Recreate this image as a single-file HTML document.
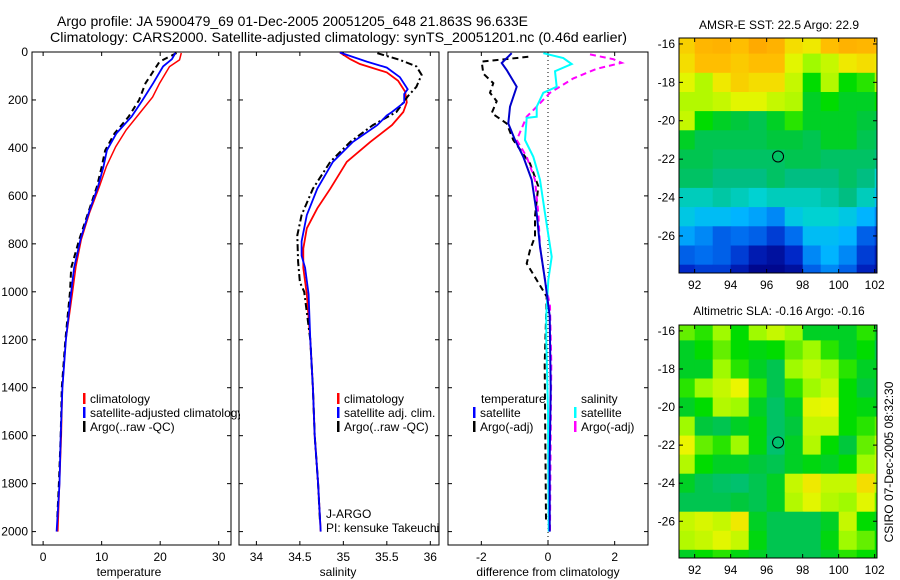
<!DOCTYPE html>
<html><head><meta charset="utf-8"><style>
html,body{margin:0;padding:0;background:#fff;}
svg{display:block;font-family:"Liberation Sans",sans-serif;}
text{font-size:12px;fill:#000;}
</style></head><body>
<svg id="chart" width="900" height="580" xmlns="http://www.w3.org/2000/svg">
<text x="57" y="26" textLength="471" lengthAdjust="spacingAndGlyphs" style="font-size:14px">Argo profile: JA 5900479_69 01-Dec-2005 20051205_648 21.863S 96.633E</text>
<text x="50" y="42" textLength="577" lengthAdjust="spacingAndGlyphs" style="font-size:14px">Climatology: CARS2000. Satellite-adjusted climatology: synTS_20051201.nc (0.46d earlier)</text>
<text x="129" y="576" text-anchor="middle">temperature</text>
<text x="338" y="576" text-anchor="middle">salinity</text>
<text x="548" y="576" text-anchor="middle">difference from climatology</text>
<text x="779" y="29" text-anchor="middle">AMSR-E SST: 22.5 Argo: 22.9</text>
<text x="779" y="315" text-anchor="middle">Altimetric SLA: -0.16 Argo: -0.16</text>
<text transform="translate(893,462) rotate(-90)" text-anchor="middle">CSIRO 07-Dec-2005 08:32:30</text>
<g id="layer"></g>
</svg>
<script>
// ---- data ----
const depthTicks=[0,200,400,600,800,1000,1200,1400,1600,1800,2000];
const tempTicks=[0,10,20,30];
const salTicks=[34,34.5,35,35.5,36];
const diffTicks=[-2,0,2];
const tClimD=[4,33,61,130,188,255,325,395,478,562,672,783,895,1005,1200,1400,1600,1800,2000];
const tClimV=[23.6,23.3,21.6,19.9,18.7,16.5,14.2,12.4,10.8,9.6,7.9,6.5,5.6,5.0,3.9,3.3,3.1,2.8,2.5];
const tSatD=[4,30,60,130,200,270,340,410,480,560,670,780,900,1000,1200,1400,1600,1800,2000];
const tSatV=[22.6,22.0,20.5,18.8,17.0,15.1,12.5,10.9,10.3,9.4,7.8,6.4,5.3,4.8,3.9,3.3,3.0,2.8,2.3];
const tArgD=[4,40,130,200,270,340,410,480,560,670,780,900,1000,1200,1400,1600,1800,1950];
const tArgV=[22.8,19.9,17.5,16.4,14.6,12.2,10.6,10.0,9.2,7.7,6.2,4.8,4.6,3.8,3.2,3.0,2.7,2.4];
const sClimD=[2,30,50,85,120,165,210,250,305,375,458,570,652,735,820,900,1010,1200,1400,1600,1800,2000];
const sClimV=[34.96,35.08,35.19,35.5,35.63,35.71,35.73,35.69,35.56,35.31,35.04,34.85,34.70,34.58,34.54,34.54,34.58,34.62,34.65,34.67,34.71,34.74];
const sSatD=[2,40,65,105,155,175,210,250,265,305,375,458,570,680,790,850,900,1010,1200,1400,1600,1800,2000];
const sSatV=[34.96,35.27,35.5,35.65,35.74,35.70,35.70,35.56,35.5,35.39,35.11,34.88,34.70,34.58,34.52,34.52,34.56,34.60,34.62,34.65,34.67,34.71,34.74];
const sArgD=[5,33,60,95,145,185,250,305,375,458,570,680,765,875,960,1000,1200,1400,1600,1800,1950];
const sArgV=[35.39,35.65,35.84,35.9,35.84,35.74,35.61,35.34,35.08,34.85,34.65,34.52,34.47,34.48,34.50,34.55,34.62,34.65,34.67,34.71,34.73];
const dTSatD=[5,46,75,145,228,298,367,437,533,673,812,951,1100,1400,1700,2000];
const dTSatV=[-1.09,-1.39,-1.24,-0.94,-1.14,-1.19,-0.99,-0.74,-0.49,-0.34,-0.24,-0.09,0.05,0.08,0.05,0.05];
const dSSatD=[5,25,50,80,145,170,228,270,275,367,437,533,673,854,951,1100,1200,1500,2000];
const dSSatV=[-0.14,0.46,0.71,0.21,0.26,-0.14,-0.34,-0.34,-0.64,-0.69,-0.44,-0.24,-0.09,0.11,0.01,-0.05,-0.05,0.0,0.02];
const dSArgD=[10,30,45,70,110,170,228,270,367,437,533,673,812,951,1060,1300,1600,2000];
const dSArgV=[1.26,1.96,2.21,1.46,0.76,0.06,-0.34,-0.64,-0.94,-0.64,-0.39,-0.29,-0.24,-0.09,0.06,0.1,0.08,0.06];
const dTArgD=[20,40,90,130,170,205,255,298,367,465,560,686,770,826,882,951,1020,1300,1600,1950];
const dTArgV=[-0.59,-1.99,-1.94,-1.64,-1.74,-1.54,-1.69,-1.24,-1.04,-0.54,-0.29,-0.39,-0.39,-0.54,-0.64,-0.34,-0.04,-0.1,-0.08,-0.06];
const mapLonTicks=[92,94,96,98,100,102];
const mapLatTicks=[-16,-18,-20,-22,-24,-26];
const argoLon=96.633, argoLat=-21.863;
const sstGrid=[
[.82,.87,.88,.85,.9,.88,.8,.78,.85,.88,.87,.85],
[.8,.85,.85,.83,.85,.85,.75,.68,.72,.78,.8,.78],
[.75,.7,.78,.82,.8,.8,.72,.6,.7,.6,.62,.7],
[.7,.7,.72,.75,.75,.72,.7,.55,.6,.55,.55,.6],
[.72,.6,.55,.52,.5,.55,.62,.55,.55,.55,.52,.5],
[.55,.5,.5,.5,.5,.52,.52,.5,.55,.55,.5,.48],
[.5,.5,.48,.48,.48,.48,.5,.5,.48,.48,.48,.45],
[.48,.48,.45,.45,.45,.48,.45,.45,.45,.48,.45,.38],
[.4,.4,.42,.4,.38,.4,.4,.4,.42,.45,.4,.32],
[.35,.32,.32,.3,.28,.25,.35,.38,.38,.35,.3,.25],
[.28,.25,.2,.22,.2,.15,.22,.32,.32,.3,.2,.15],
[.2,.22,.2,.15,.08,.05,.12,.25,.3,.25,.15,.08],
[.12,.15,.15,.08,.02,.02,.05,.2,.25,.2,.1,.05]];
const slaGrid=[
[.65,.62,.68,.6,.68,.72,.68,.55,.55,.55,.62,.55],
[.55,.6,.65,.6,.58,.6,.65,.68,.62,.55,.6,.5],
[.55,.55,.68,.62,.55,.5,.68,.72,.68,.62,.55,.55],
[.62,.68,.72,.76,.62,.5,.62,.68,.72,.6,.52,.55],
[.55,.6,.7,.68,.55,.48,.55,.75,.76,.6,.58,.55],
[.68,.52,.5,.55,.58,.48,.52,.72,.72,.6,.62,.65],
[.76,.65,.62,.68,.58,.47,.55,.7,.6,.52,.65,.7],
[.7,.6,.55,.55,.52,.5,.55,.58,.55,.6,.68,.72],
[.55,.5,.48,.47,.5,.55,.72,.78,.72,.72,.8,.7],
[.5,.5,.5,.52,.5,.55,.7,.75,.7,.68,.75,.65],
[.72,.74,.72,.78,.55,.5,.5,.5,.55,.72,.6,.55],
[.7,.72,.75,.72,.58,.5,.5,.5,.58,.68,.65,.6],
[.55,.6,.62,.58,.55,.5,.5,.5,.55,.62,.6,.58]];

// ---- helpers ----
const NS='http://www.w3.org/2000/svg';
const layer=document.getElementById('layer');
function mk(tag,attrs,parent){const e=document.createElementNS(NS,tag);for(const k in attrs)e.setAttribute(k,attrs[k]);(parent||layer).appendChild(e);return e;}
const Y0=52, Y1=545, DMAX=(Y1-Y0)/0.2398;
function yD(d){return Y0+d*(Y1-Y0)/DMAX;}
function lin(d0,d1,r0,r1){return v=>r0+(v-d0)*(r1-r0)/(d1-d0);}
const panels=[
 {name:'temperature-panel',x0:32,x1:231,sx:lin(-1.9,32.1,32,231),ticks:tempTicks},
 {name:'salinity-panel',x0:239,x1:439,sx:lin(33.8,36.1,239,439),ticks:salTicks},
 {name:'difference-panel',x0:448,x1:648,sx:lin(-3,3,448,648),ticks:diffTicks}];
panels.forEach((p,i)=>{
 const g=mk('g',{});
 
 
 const cp=mk('clipPath',{id:'clip'+i},g);
 mk('rect',{x:p.x0,y:Y0,width:p.x1-p.x0,height:Y1-Y0},cp);
 p.g=g;
 const frame=mk('rect',{x:p.x0,y:Y0,width:p.x1-p.x0,height:Y1-Y0,fill:'none',stroke:'#000','stroke-width':1},g);
 
 
 depthTicks.forEach(d=>{
  const y=yD(d);
  mk('line',{x1:p.x0,x2:p.x0+4,y1:y,y2:y,stroke:'#000'},g);
  mk('line',{x1:p.x1,x2:p.x1-4,y1:y,y2:y,stroke:'#000'},g);
  if(i===0){const t=mk('text',{x:p.x0-4,y:y+4,'text-anchor':'end'},g);t.textContent=d;
   
   }
 });
 p.ticks.forEach(v=>{
  const x=p.sx(v);
  mk('line',{x1:x,x2:x,y1:Y1,y2:Y1-4,stroke:'#000'},g);
  mk('line',{x1:x,x2:x,y1:Y0,y2:Y0+4,stroke:'#000'},g);
  const t=mk('text',{x:x,y:Y1+16,'text-anchor':'middle'},g);t.textContent=v;
  
  
 });
});
function series(p,pi,D,V,color,dash,w,name){
 const pts=D.map((d,k)=>p.sx(V[k]).toFixed(1)+','+yD(d).toFixed(1)).join(' ');
 const e=mk('polyline',{points:pts,fill:'none',stroke:color,'stroke-width':w,'stroke-dasharray':dash||'none','clip-path':'url(#clip'+pi+')'},p.g);
 
 
}
const P=panels;
const zl=mk('line',{x1:P[2].sx(0),x2:P[2].sx(0),y1:Y0,y2:Y1,stroke:'#000','stroke-dasharray':'1,3'},P[2].g);


series(P[0],0,tClimD,tClimV,'#f00','',1.5,'temperature-climatology-line');
series(P[0],0,tArgD,tArgV,'#000','6,4',2,'temperature-argo-line');
series(P[0],0,tSatD,tSatV,'#00f','',1.8,'temperature-satellite-line');
series(P[1],1,sClimD,sClimV,'#f00','',1.8,'salinity-climatology-line');
series(P[1],1,sArgD,sArgV,'#000','7,3,2,3',2,'salinity-argo-line');
series(P[1],1,sSatD,sSatV,'#00f','',1.8,'salinity-satellite-line');
series(P[2],2,dTArgD,dTArgV,'#000','6,4',2,'temperature-argo-difference-line');
series(P[2],2,dSArgD,dSArgV,'#f0f','6,4',2,'salinity-argo-difference-line');
series(P[2],2,dSSatD,dSSatV,'#0ff','',2,'salinity-satellite-difference-line');
series(P[2],2,dTSatD,dTSatV,'#00c','',2,'temperature-satellite-difference-line');

const cl=mk('clipPath',{id:'clipLeg'});
mk('rect',{x:0,y:0,width:240,height:580},cl);
function legend(g,x,y,color,label,clip){
 const lg=mk('g',{},g);
 
 
 mk('rect',{x:x,y:y-10,width:2.5,height:11,fill:color},lg);
 const t=mk('text',{x:x+7,y:y},lg);t.textContent=label;
 if(clip)t.setAttribute('clip-path',clip);
}
legend(P[0].g,83,403,'#f00','climatology');
legend(P[0].g,83,417,'#00f','satellite-adjusted climatology','url(#clipLeg)');
legend(P[0].g,83,431,'#000','Argo(..raw -QC)');
legend(P[1].g,337,403,'#f00','climatology');
legend(P[1].g,337,417,'#00f','satellite adj. clim.');
legend(P[1].g,337,431,'#000','Argo(..raw -QC)');
const t1=mk('text',{x:326,y:518},P[1].g);t1.textContent='J-ARGO';


const t2=mk('text',{x:326,y:532},P[1].g);t2.textContent='PI: kensuke Takeuchi';


const th=mk('text',{x:481,y:403},P[2].g);th.textContent='temperature';


const sh=mk('text',{x:581,y:403},P[2].g);sh.textContent='salinity';


legend(P[2].g,473,417,'#00f','satellite');
legend(P[2].g,473,431,'#000','Argo(-adj)');
legend(P[2].g,574,417,'#0ff','satellite');
legend(P[2].g,574,431,'#f0f','Argo(-adj)');

// ---- maps ----
const cmapStops=[[0,0,0,130],[.12,0,40,200],[.22,0,110,240],[.3,0,180,255],[.38,0,210,210],[.45,0,190,130],[.52,0,200,60],[.6,0,220,0],[.68,160,250,0],[.76,235,245,0],[.85,255,190,0],[.95,255,150,0]];
function cmap(v){
 if(v<=cmapStops[0][0])return 'rgb(0,0,130)';
 for(let i=1;i<cmapStops.length;i++){const a=cmapStops[i-1],b=cmapStops[i];
  if(v<=b[0]){const f=(v-a[0])/(b[0]-a[0]);
   return 'rgb('+[1,2,3].map(k=>Math.round(a[k]+(b[k]-a[k])*f)).join(',')+')';}}
 return 'rgb(255,150,0)';
}
const LON0=91.13,LON1=102.13,LAT0=-15.69,LAT1=-27.93;
function drawMap(name,grid,top,bottom,ci){
 const g=mk('g',{});
 
 
 const mx=lin(LON0,LON1,679,877), my=lin(LAT0,LAT1,top,bottom);
 const cp=mk('clipPath',{id:'mclip'+ci},g);
 mk('rect',{x:679,y:top,width:198,height:bottom-top},cp);
 const cg=mk('g',{'clip-path':'url(#mclip'+ci+')'},g);
 grid.forEach((row,r)=>row.forEach((v,c)=>{
  const x=mx(91+c), y=my(-15.5-r);
  const cell=mk('rect',{x:x.toFixed(1),y:y.toFixed(1),width:(mx(92+c)-x+0.6).toFixed(1),height:(my(-16.5-r)-y+0.6).toFixed(1),fill:cmap(v)},cg);
  
  
 }));
 mk('rect',{x:679,y:top,width:198,height:bottom-top,fill:'none',stroke:'#000'},g);
 mapLonTicks.forEach(l=>{const x=mx(l);
  mk('line',{x1:x,x2:x,y1:bottom,y2:bottom-4,stroke:'#000'},g);
  mk('line',{x1:x,x2:x,y1:top,y2:top+4,stroke:'#000'},g);
  const t=mk('text',{x:x,y:bottom+16,'text-anchor':'middle'},g);t.textContent=l;
  
  });
 mapLatTicks.forEach(l=>{const y=my(l);
  mk('line',{x1:679,x2:683,y1:y,y2:y,stroke:'#000'},g);
  mk('line',{x1:877,x2:873,y1:y,y2:y,stroke:'#000'},g);
  const t=mk('text',{x:675,y:y+4,'text-anchor':'end'},g);t.textContent=l;
  
  });
 const m=mk('circle',{cx:mx(argoLon),cy:my(argoLat),r:5.5,fill:'none',stroke:'#000'},g);
 
 
}
drawMap('sst-map',sstGrid,38,273,0);
drawMap('sla-map',slaGrid,325,558,1);
</script>
</body></html>
